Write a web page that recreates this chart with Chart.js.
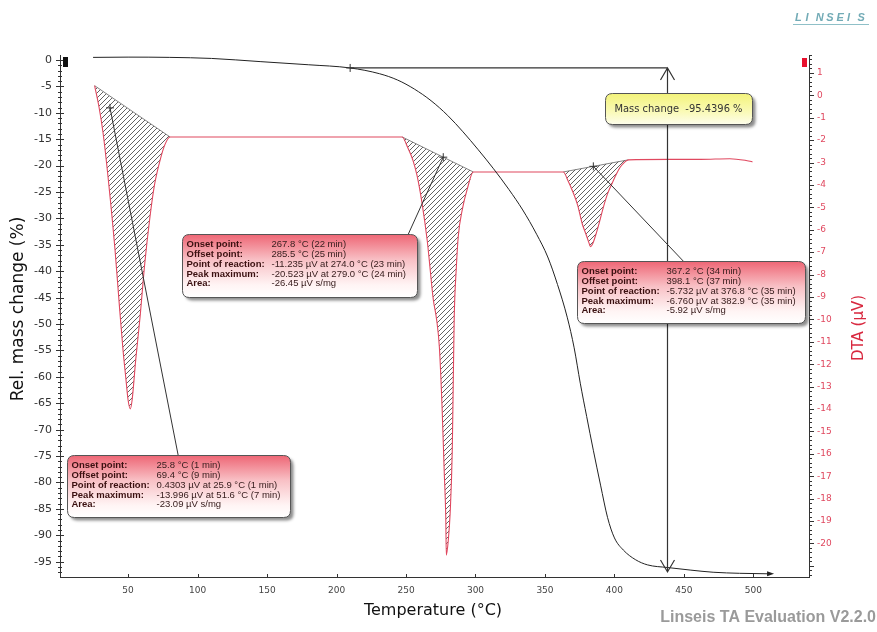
<!DOCTYPE html>
<html>
<head>
<meta charset="utf-8">
<title>TG / DTA</title>
<script src="https://cdn.jsdelivr.net/npm/chart.js@4.4.1/dist/chart.umd.min.js"></script>
<style>
  html, body { margin: 0; padding: 0; background: #fff; }
  canvas { display: block; }
</style>
</head>
<body>
<canvas id="taChart" width="877" height="632"></canvas>
<script>
// TG (relative mass change) and DTA signal against temperature

// TG curve
const tgTemp = [24.8, 50, 80, 110, 145, 180, 209.8, 231, 244, 256, 268, 280, 291, 302, 313, 324, 334, 344, 352, 359, 366, 371, 375.4, 380, 384.8, 390, 395, 400, 406.4, 415, 423.7, 438, 455, 471, 490, 512];
const tgMass = [0.5, 0.55, 0.5, 0.3, -0.3, -0.9, -1.5, -2.6, -3.8, -5.5, -7.7, -10.5, -13.6, -17.0, -20.6, -24.5, -28.4, -33.0, -37.3, -42.5, -48.7, -54.5, -61.2, -67.5, -73.9, -80.5, -86.6, -90.5, -92.8, -94.6, -95.6, -96.1, -96.6, -97.0, -97.2, -97.3];

// DTA curve
const dtaTemp = [25.9, 29, 32, 36, 40.6, 44, 46.4, 48.5, 50, 51.6, 52.9, 55.5, 58.6, 62, 65.8, 69, 73, 76.5, 80.2, 120, 160, 200, 247.3,
  251, 255, 258, 261.5, 265.3, 269.6, 272, 274.0, 276, 277.5, 278.6, 279.0, 280.5, 281.8, 283.3, 284.0, 284.7, 286.2, 287.6, 290.5, 294, 298.4,
  330, 363.2, 366.5, 370.4, 373.5, 376.8, 379.5, 381.2, 382.9, 384.5, 386.2, 389, 392, 395, 398.5, 401.5, 404.2, 407, 410,
  440, 462, 483, 494, 499.3];
const dtaSignal = [0.4303, -0.5, -1.68, -3.9, -6.9, -9.6, -11.4, -12.7, -13.6, -13.996, -13.6, -11.8, -9.9, -7.5, -5.4, -4.0, -2.9, -2.2, -1.86, -1.86, -1.86, -1.86, -1.86,
  -2.3, -2.9, -3.6, -4.8, -6.5, -9.1, -10.0, -11.235, -14.0, -16.8, -18.8, -20.523, -19.8, -18.6, -15.8, -12.8, -9.9, -7.7, -6.3, -5.1, -4.2, -3.42,
  -3.42, -3.42, -3.8, -4.36, -4.9, -5.732, -6.2, -6.5, -6.760, -6.6, -6.3, -5.7, -5.0, -4.4, -3.9, -3.5, -3.2, -3.0, -2.88,
  -2.86, -2.86, -2.83, -2.9, -2.97];

// peak integration baselines: [start, end]
const baseTemp = [[25.9, 80.2], [247.3, 298.4], [363.2, 410]];
const baseSignal = [[0.4303, -1.86], [-1.86, -3.42], [-3.42, -2.88]];

// mass step
const massStartTemp = 209.8;
const massStepTemp = 438;
const massStepFrom = -1.5;
const massChange = -95.4396;

// peak evaluation texts
const peakLabels = ['Onset point:', 'Offset point:', 'Point of reaction:', 'Peak maximum:', 'Area:'];
const peakValues = [
  ['25.8 °C (1 min)', '69.4 °C (9 min)', '0.4303 µV at 25.9 °C (1 min)', '-13.996 µV at 51.6 °C (7 min)', '-23.09 µV s/mg'],
  ['267.8 °C (22 min)', '285.5 °C (25 min)', '-11.235 µV at 274.0 °C (23 min)', '-20.523 µV at 279.0 °C (24 min)', '-26.45 µV s/mg'],
  ['367.2 °C (34 min)', '398.1 °C (37 min)', '-5.732 µV at 376.8 °C (35 min)', '-6.760 µV at 382.9 °C (35 min)', '-5.92 µV s/mg']
];

// where the boxes sit (temperature, mass %) and where their leader lines point (temperature, DTA)
const boxAnchor = [[6, -74.8], [88.9, -33.0], [373.3, -38.1]];
const boxSize = [[223, 62], [235, 63], [228, 62]];
const leaderFrom = [[37.0, -0.56], [276.8, -2.76], [384.8, -3.17]];
const leaderTo = [86.0, 251.6, 449.6];
const massBoxAnchor = [393.4, -6.25];

const RED = '#e0485f';
const FONT = "'DejaVu Sans', Verdana, sans-serif";
const BOX_FONT = "'Liberation Sans', Arial, sans-serif";

function pts(xs, ys) {
  return xs.map((x, i) => ({ x: x, y: ys[i] }));
}

function hatchPattern() {
  const c = document.createElement('canvas');
  c.width = 5; c.height = 5;
  const g = c.getContext('2d');
  g.strokeStyle = '#505050';
  g.lineWidth = 0.9;
  g.beginPath();
  g.moveTo(0, 5); g.lineTo(5, 0);
  g.moveTo(-1, 1); g.lineTo(1, -1);
  g.moveTo(4, 6); g.lineTo(6, 4);
  g.stroke();
  return g.createPattern(c, 'repeat');
}

const hatch = hatchPattern();

// Build datasets
const datasets = [
  {
    data: pts(tgTemp, tgMass), yAxisID: 'y', borderColor: '#222', borderWidth: 1,
    pointRadius: 0, cubicInterpolationMode: 'monotone', fill: false
  },
  {
    data: pts(dtaTemp, dtaSignal), yAxisID: 'y2', borderColor: RED, borderWidth: 1.1,
    pointRadius: 0, cubicInterpolationMode: 'monotone', fill: false
  }
];

baseTemp.forEach((range, i) => {
  const peakPts = pts(dtaTemp, dtaSignal).filter(p => p.x >= range[0] && p.x <= range[1]);
  datasets.push({
    data: peakPts, yAxisID: 'y2', borderWidth: 0, borderColor: 'rgba(0,0,0,0)',
    pointRadius: 0, cubicInterpolationMode: 'monotone', backgroundColor: hatch, fill: '+1'
  });
  datasets.push({
    data: pts(range, baseSignal[i]), yAxisID: 'y2', borderColor: '#666', borderWidth: 0.8,
    pointRadius: 0, fill: false
  });
});

function roundRect(ctx, x, y, w, h, r) {
  ctx.beginPath();
  ctx.moveTo(x + r, y);
  ctx.lineTo(x + w - r, y);
  ctx.quadraticCurveTo(x + w, y, x + w, y + r);
  ctx.lineTo(x + w, y + h - r);
  ctx.quadraticCurveTo(x + w, y + h, x + w - r, y + h);
  ctx.lineTo(x + r, y + h);
  ctx.quadraticCurveTo(x, y + h, x, y + h - r);
  ctx.lineTo(x, y + r);
  ctx.quadraticCurveTo(x, y, x + r, y);
  ctx.closePath();
}

function drawBox(ctx, x, y, w, h, stops) {
  ctx.save();
  roundRect(ctx, x, y, w, h, 7);
  ctx.shadowColor = 'rgba(0,0,0,0.45)';
  ctx.shadowBlur = 3;
  ctx.shadowOffsetX = 3;
  ctx.shadowOffsetY = 3;
  const grad = ctx.createLinearGradient(0, y, 0, y + h);
  stops.forEach(s => grad.addColorStop(s[0], s[1]));
  ctx.fillStyle = grad;
  ctx.fill();
  ctx.shadowColor = 'rgba(0,0,0,0)';
  ctx.strokeStyle = '#555';
  ctx.lineWidth = 1;
  ctx.stroke();
  ctx.restore();
}

function cross(ctx, x, y) {
  ctx.beginPath();
  ctx.moveTo(x - 4, y); ctx.lineTo(x + 4, y);
  ctx.moveTo(x, y - 4); ctx.lineTo(x, y + 4);
  ctx.stroke();
}

// Ticks, titles, evaluation boxes and the mass step marker
const overlay = {
  id: 'overlay',
  afterDraw(chart) {
    const ctx = chart.ctx;
    const { x, y, y2 } = chart.scales;
    const area = chart.chartArea;

    ctx.save();
    ctx.strokeStyle = '#333';
    ctx.lineWidth = 1;

    // minor/major ticks on the left axis
    for (let v = Math.ceil(y.min); v <= y.max; v++) {
      const py = Math.round(y.getPixelForValue(v)) + 0.5;
      const len = v % 5 === 0 ? 4 : 2;
      ctx.beginPath();
      ctx.moveTo(area.left - len, py); ctx.lineTo(area.left + len, py);
      ctx.stroke();
    }
    // right axis, every 0.2
    for (let k = Math.ceil(y2.min * 5); k <= y2.max * 5; k++) {
      const py = Math.round(y2.getPixelForValue(k / 5)) + 0.5;
      const len = k % 5 === 0 ? 5 : 3;
      ctx.beginPath();
      ctx.moveTo(area.right, py); ctx.lineTo(area.right + len, py);
      ctx.stroke();
    }
    // bottom axis
    for (let v = 50; v <= x.max; v += 50) {
      const px = Math.round(x.getPixelForValue(v)) + 0.5;
      ctx.beginPath();
      ctx.moveTo(px, area.bottom); ctx.lineTo(px, area.bottom - 3);
      ctx.stroke();
    }

    // series markers at the top of the axes
    ctx.fillStyle = '#111';
    ctx.fillRect(area.left + 3, area.top + 2, 5, 10);
    ctx.fillStyle = '#e8102e';
    ctx.fillRect(area.right - 7, area.top + 3, 5, 9);

    // end arrow of the TG curve
    const ex = x.getPixelForValue(tgTemp[tgTemp.length - 1]);
    const ey = y.getPixelForValue(tgMass[tgMass.length - 1]);
    ctx.fillStyle = '#222';
    ctx.beginPath();
    ctx.moveTo(ex + 4, ey); ctx.lineTo(ex - 3, ey - 2.5); ctx.lineTo(ex - 3, ey + 2.5);
    ctx.closePath(); ctx.fill();

    // mass step: horizontal line, vertical double arrow
    const mx = Math.round(x.getPixelForValue(massStepTemp)) + 0.5;
    const myTop = y.getPixelForValue(massStepFrom);
    const myBot = y.getPixelForValue(massStepFrom + massChange);
    ctx.strokeStyle = '#333';
    ctx.lineWidth = 1.2;
    ctx.beginPath();
    ctx.moveTo(x.getPixelForValue(massStartTemp), myTop); ctx.lineTo(mx, myTop);
    ctx.moveTo(mx, myTop); ctx.lineTo(mx, myBot);
    ctx.moveTo(mx - 7, myTop + 12); ctx.lineTo(mx, myTop); ctx.lineTo(mx + 7, myTop + 12);
    ctx.moveTo(mx - 7, myBot - 12); ctx.lineTo(mx, myBot); ctx.lineTo(mx + 7, myBot - 12);
    ctx.stroke();
    ctx.lineWidth = 1;
    cross(ctx, x.getPixelForValue(massStartTemp), myTop);

    // leader lines from the peaks to their boxes
    ctx.strokeStyle = '#333';
    ctx.lineWidth = 1;
    leaderFrom.forEach((p, i) => {
      const sx = x.getPixelForValue(p[0]);
      const sy = y2.getPixelForValue(p[1]);
      ctx.beginPath();
      ctx.moveTo(sx, sy);
      ctx.lineTo(x.getPixelForValue(leaderTo[i]), y.getPixelForValue(boxAnchor[i][1]));
      ctx.stroke();
      cross(ctx, sx, sy);
    });

    // peak evaluation boxes
    boxAnchor.forEach((a, i) => {
      const bx = Math.round(x.getPixelForValue(a[0])) + 0.5;
      const by = Math.round(y.getPixelForValue(a[1])) + 0.5;
      const [w, h] = boxSize[i];
      drawBox(ctx, bx, by, w, h, [[0, '#ee6675'], [0.4, '#f8c0c5'], [0.8, '#fff4f4'], [1, '#ffffff']]);
      ctx.textBaseline = 'middle';
      ctx.textAlign = 'left';
      peakLabels.forEach((lab, j) => {
        const ty = by + 10 + j * 9.8;
        ctx.font = 'bold 9.5px ' + BOX_FONT;
        ctx.fillStyle = '#3a1010';
        ctx.fillText(lab, bx + 4, ty, 82);
        ctx.font = '9.5px ' + BOX_FONT;
        ctx.fillStyle = '#3a2020';
        ctx.fillText(peakValues[i][j], bx + 89, ty, w - 93);
      });
    });

    // mass change box
    const qx = Math.round(x.getPixelForValue(massBoxAnchor[0])) + 0.5;
    const qy = Math.round(y.getPixelForValue(massBoxAnchor[1])) + 0.5;
    drawBox(ctx, qx, qy, 147, 31, [[0, '#f3f37a'], [0.6, '#fafab8'], [1, '#fdfdec']]);
    ctx.font = '10px ' + FONT;
    ctx.fillStyle = '#333';
    ctx.textBaseline = 'middle';
    ctx.fillText('Mass change  ' + massChange.toFixed(4) + ' %', qx + 9, qy + 16, 128);

    // axis titles
    ctx.fillStyle = '#111';
    ctx.textAlign = 'center';
    ctx.font = '17px ' + FONT;
    ctx.save();
    ctx.translate(19, 309);
    ctx.rotate(-Math.PI / 2);
    ctx.fillText('Rel. mass change (%)', 0, 0);
    ctx.restore();

    ctx.fillStyle = '#d8283f';
    ctx.font = '15px ' + FONT;
    ctx.save();
    ctx.translate(859, 328);
    ctx.rotate(-Math.PI / 2);
    ctx.fillText('DTA (µV)', 0, 0);
    ctx.restore();

    ctx.fillStyle = '#111';
    ctx.font = '16px ' + FONT;
    ctx.fillText('Temperature (°C)', 433, 611);

    // footer and logo
    ctx.textAlign = 'right';
    ctx.font = 'bold 16px ' + BOX_FONT;
    ctx.fillStyle = '#9a9a9a';
    ctx.fillText('Linseis TA Evaluation V2.2.0', 876, 618);

    ctx.textAlign = 'left';
    ctx.font = 'italic bold 11px ' + BOX_FONT;
    ctx.fillStyle = '#72abb6';
    const logo = 'LINSEIS';
    for (let k = 0; k < logo.length; k++) {
      ctx.fillText(logo[k], 795 + k * 10.4, 18);
    }
    ctx.strokeStyle = '#8fc0c8';
    ctx.beginPath();
    ctx.moveTo(793, 24.5); ctx.lineTo(869, 24.5);
    ctx.stroke();

    ctx.restore();
  }
};

new Chart(document.getElementById('taChart'), {
  type: 'line',
  data: { datasets: datasets },
  options: {
    responsive: false,
    animation: false,
    events: [],
    layout: { padding: { top: 55 } },
    plugins: {
      legend: { display: false },
      tooltip: { enabled: false }
    },
    scales: {
      x: {
        type: 'linear', position: 'bottom', min: 1, max: 540,
        grid: { display: false, drawTicks: false },
        border: { display: true, color: '#333', width: 1 },
        ticks: { stepSize: 50, includeBounds: false, padding: 8, color: '#444', font: { family: FONT, size: 9 } },
        afterFit: s => { s.height = 55; }
      },
      y: {
        type: 'linear', position: 'left', min: -97.9, max: 0.95,
        grid: { display: false, drawTicks: false },
        border: { display: true, color: '#333', width: 1 },
        ticks: { stepSize: 5, includeBounds: false, padding: 8, color: '#333', font: { family: FONT, size: 11 } },
        afterFit: s => { s.width = 60; }
      },
      y2: {
        type: 'linear', position: 'right', min: -21.5, max: 1.8,
        grid: { display: false, drawTicks: false },
        border: { display: true, color: '#333', width: 1 },
        ticks: {
          stepSize: 1, includeBounds: false, padding: 8, color: RED, font: { family: FONT, size: 9 },
          callback: v => (v >= -20 ? v : '')
        },
        afterFit: s => { s.width = 68; }
      }
    }
  },
  plugins: [overlay]
});
</script>
</body>
</html>
